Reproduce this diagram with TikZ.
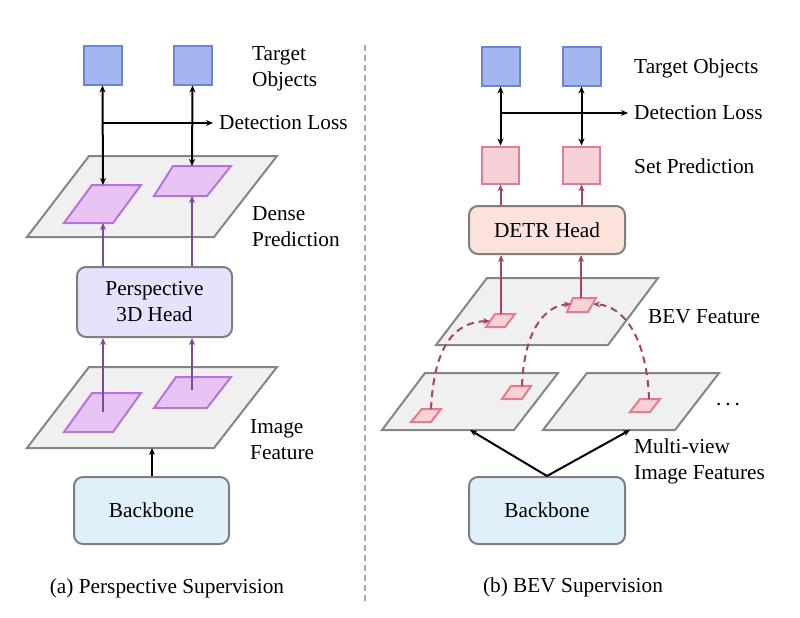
\documentclass[tikz,border=0pt]{standalone}
\usepackage{fontspec}
\setmainfont{Liberation Serif}
\usetikzlibrary{arrows.meta}

\definecolor{objfill}{HTML}{A4B6F0}
\definecolor{objline}{HTML}{6A86D2}
\definecolor{denfill}{HTML}{E8C4F4}
\definecolor{denline}{HTML}{B872D8}
\definecolor{purparrow}{HTML}{7B4B9A}
\definecolor{planefill}{HTML}{F0F0F0}
\definecolor{planeline}{HTML}{858585}
\definecolor{boxline}{HTML}{7F7F7F}
\definecolor{perspfill}{HTML}{E5E2FB}
\definecolor{bbfill}{HTML}{DFF0FA}
\definecolor{setfill}{HTML}{F6D1D7}
\definecolor{setline}{HTML}{E57B8D}
\definecolor{detrfill}{HTML}{FBE3DB}
\definecolor{crim}{HTML}{A6426C}
\definecolor{divline}{HTML}{AAAAAA}

\tikzset{
  txt/.style={font=\fontsize{21.3}{26}\selectfont, align=left, anchor=west, inner sep=0pt},
  captxt/.style={font=\fontsize{21.3}{26}\selectfont, inner sep=0pt},
  obj/.style={draw=objline, fill=objfill, line width=2pt, minimum size=38, inner sep=0pt},
  setpred/.style={draw=setline, fill=setfill, line width=2pt, minimum size=37, inner sep=0pt},
  headbox/.style={draw=boxline, line width=2pt, rounded corners=9pt, align=center,
    font=\fontsize{21.3}{26}\selectfont, inner sep=0pt},
  plane/.style={draw=planeline, fill=planefill, line width=2pt},
  denpatch/.style={draw=denline, fill=denfill, line width=2pt},
  bevpatch/.style={draw=setline, fill=setfill, line width=2pt},
  arrow/.style={line width=2pt, -{Stealth[length=7pt,width=6pt]}},
  darrow/.style={line width=2pt, {Stealth[length=7pt,width=6pt]}-{Stealth[length=7pt,width=6pt]}},
  parrow/.style={draw=purparrow, line width=2pt, -{Stealth[length=7pt,width=6pt]}},
  rarrow/.style={draw=crim, line width=2pt, -{Stealth[length=7pt,width=6pt]}},
  dcurve/.style={draw=crim, line width=2pt, dash pattern=on 7pt off 5pt, -{Stealth[length=7pt,width=6pt]}}
}

\begin{document}
\begin{tikzpicture}[x=1pt, y=-1pt]
  \useasboundingbox (0,0) rectangle (800,618);

  % (a) perspective supervision
  \node[obj] (lt1) at (102.5,65.5) {};
  \node[obj] (lt2) at (192.5,65.5) {};
  \node[txt] (ltlab) at (252,69) {Target\\Objects};

  \draw[plane] (89,156) -- (277,156) -- (214,237) -- (27,237) -- cycle;
  \draw[denpatch] (92,185) -- (141,185) -- (113,223) -- (64,223) -- cycle;
  \draw[denpatch] (173,166) -- (231,166) -- (207,196) -- (154,196) -- cycle;
  \coordinate (ld1t) at (103,185); \coordinate (ld1b) at (103,223);
  \coordinate (ld2t) at (192,166); \coordinate (ld2b) at (192,196);
  \node[txt] (ldlab) at (252,227) {Dense\\Prediction};

  \draw[darrow] (lt1.south) -- (ld1t);
  \draw[darrow] (lt2.south) -- (ld2t);
  \coordinate (lloss) at (103,123);
  \node[txt] (llosslab) at (219,123) {Detection Loss};
  \draw[arrow] (lloss) -- ([xshift=-6pt]llosslab.west);

  \node[headbox, fill=perspfill, minimum width=155, minimum height=70] (lhead) at (154.5,302) {Perspective\\3D Head};
  \draw[parrow] (lhead.north -| ld1b) -- (ld1b);
  \draw[parrow] (lhead.north -| ld2b) -- (ld2b);

  \draw[plane] (89,367) -- (277,367) -- (214,448) -- (27,448) -- cycle;
  \draw[denpatch] (92,393) -- (141,393) -- (113,432) -- (64,432) -- cycle;
  \draw[denpatch] (176,377) -- (231,377) -- (207,408) -- (154,408) -- cycle;
  \coordinate (li1) at (103,412); \coordinate (li2) at (192,390);
  \coordinate (limg) at (152,448);
  \node[txt] (lilab) at (250,440) {Image\\Feature};
  \draw[parrow] (li1) -- (lhead.south -| li1);
  \draw[parrow] (li2) -- (lhead.south -| li2);

  \node[headbox, fill=bbfill, minimum width=155, minimum height=67] (lbb) at (151.5,510.5) {Backbone};
  \draw[arrow] (lbb.north -| limg) -- (limg);

  \node[captxt] (lcap) at (167,588) {(a) Perspective Supervision};

  \draw[draw=divline, line width=1.5pt, dash pattern=on 6pt off 4pt] (365,45) -- (365,603);

  % (b) BEV supervision
  \node[obj] (rt1) at (500.5,66.5) {};
  \node[obj] (rt2) at (581.5,66.5) {};
  \node[txt] (rtlab) at (634,68) {Target Objects};

  \node[setpred] (rs1) at (500.5,165) {};
  \node[setpred] (rs2) at (581.5,165) {};
  \node[txt] (rslab) at (634,166) {Set Prediction};

  \draw[darrow] (rt1.south) -- (rs1.north);
  \draw[darrow] (rt2.south) -- (rs2.north);
  \coordinate (rloss) at (501,113);
  \node[txt] (rlosslab) at (634,113) {Detection Loss};
  \draw[arrow] (rloss) -- ([xshift=-6pt]rlosslab.west);

  \node[headbox, fill=detrfill, minimum width=156, minimum height=48] (rhead) at (547,230) {DETR Head};
  \draw[rarrow] (rhead.north -| rs1) -- (rs1.south);
  \draw[rarrow] (rhead.north -| rs2) -- (rs2.south);

  \draw[plane] (487,278) -- (658,278) -- (608,345) -- (436,345) -- cycle;
  \draw[bevpatch] (495,314) -- (515,314) -- (505,327) -- (486,327) -- cycle;
  \draw[bevpatch] (573,298) -- (596,298) -- (588,312) -- (567,312) -- cycle;
  \coordinate (rb1) at (501,314); \coordinate (rb2) at (581,298);
  \coordinate (rb1l) at (490,321); \coordinate (rb2l) at (571,304); \coordinate (rb2r) at (593,304);
  \node[txt] (rblab) at (648,317) {BEV Feature};
  \draw[rarrow] (rb1) -- (rhead.south -| rb1);
  \draw[rarrow] (rb2) -- (rhead.south -| rb2);

  \draw[plane] (425,373) -- (558,373) -- (514,430) -- (382,430) -- cycle;
  \draw[plane] (587,373) -- (719,373) -- (675,430) -- (543,430) -- cycle;
  \draw[bevpatch] (422,409) -- (441,409) -- (431,422) -- (411,422) -- cycle;
  \draw[bevpatch] (511,386) -- (531,386) -- (522,399) -- (502,399) -- cycle;
  \draw[bevpatch] (640,399) -- (660,399) -- (650,412) -- (630,412) -- cycle;
  \coordinate (ra) at (431,409); \coordinate (rb) at (522,386); \coordinate (rc) at (649,399);
  \coordinate (rimgl) at (470,430); \coordinate (rimgr) at (630,430);
  \node[captxt] (rdots) at (728,405) {.\hspace{4pt}.\hspace{4pt}.};
  \node[txt] (rilab) at (634,461) {Multi-view\\Image Features};

  \draw[dcurve] (ra) .. controls (434,345) and (455,322) .. (rb1l);
  \draw[dcurve] (rb) .. controls (524,330) and (545,306) .. (rb2l);
  \draw[dcurve] (rc) .. controls (647,340) and (625,306) .. (rb2r);

  \node[headbox, fill=bbfill, minimum width=156, minimum height=67] (rbb) at (547,510.5) {Backbone};
  \draw[arrow] (rbb.north) -- (rimgl);
  \draw[arrow] (rbb.north) -- (rimgr);

  \node[captxt] (rcap) at (573,587) {(b) BEV Supervision};
\end{tikzpicture}
\end{document}
